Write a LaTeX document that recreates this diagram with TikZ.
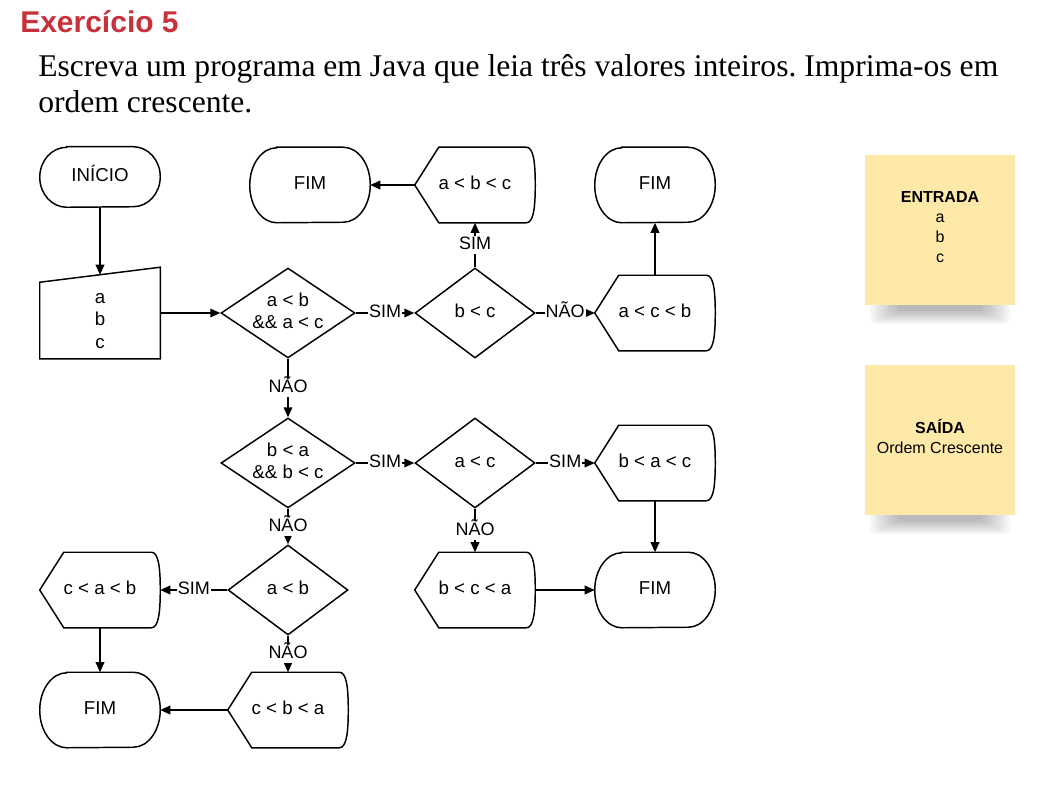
\documentclass[tikz,border=0pt]{standalone}
\usepackage{fontspec}
\setmainfont{Liberation Serif}
\setsansfont{Liberation Sans}
\usetikzlibrary{shapes.geometric,arrows.meta,calc}
\definecolor{titlered}{RGB}{200,48,60}
\definecolor{stickyyellow}{RGB}{255,233,168}
\tikzset{
  fc/.style={font=\sffamily\fontsize{14}{16.5}\selectfont, inner sep=0pt, align=center},
  one/.style={text height=10.3pt, text depth=2.9pt},
  term/.style={fc, one, minimum width=90pt, minimum height=#1},
  disp/.style={fc, one, minimum width=90pt, minimum height=56.25pt},
  dec/.style={fc, diamond, draw, line width=1.1pt, aspect=1.5, minimum width=#1, minimum height=67.5pt},
  inbox/.style={fc, minimum width=90pt, minimum height=68.25pt},
  outline/.style={draw, line width=1.1pt, line join=miter},
  arr/.style={line width=1.1pt, -{Triangle[length=7.5pt,width=6.5pt]}},
  lbl/.style={fill=white, inner sep=0.8pt, text height=9.8pt, text depth=2.8pt, font=\sffamily\fontsize{13.5}{15}\selectfont},
  sticky/.style={fill=stickyyellow, minimum width=112.5pt, minimum height=112.5pt, inner sep=0pt},
  stickytext/.style={align=center, inner sep=0pt, font=\sffamily\fontsize{12}{15}\selectfont},
  shadowstrip/.style={fill=black, opacity=0.03, rounded corners=4pt},
}
\newcommand\termshape[2]{%
  \draw[outline] ($(#1.north west)+(27,0)$) -- ($(#1.north east)+(-27,0)$)
    arc[start angle=90,end angle=-90,x radius=20.25pt,y radius=#2]
    -- ($(#1.south west)+(27,0)$)
    arc[start angle=270,end angle=90,x radius=20.25pt,y radius=#2] -- cycle;}
\newcommand\dispshape[1]{%
  \draw[outline] (#1.west) -- ($(#1.north west)+(24,0)$) -- ($(#1.north east)+(-9,0)$)
    .. controls ($(#1.north east)+(-2,0)$) and ($(#1.east)+(0,-24)$) .. (#1.east)
    .. controls ($(#1.east)+(0,24)$) and ($(#1.south east)+(-2,0)$) .. ($(#1.south east)+(-9,0)$)
    -- ($(#1.south west)+(24,0)$) -- cycle;}
\frenchspacing
\begin{document}
\begin{tikzpicture}[x=0.75pt,y=-0.75pt]
\useasboundingbox (0,0) rectangle (1041,788);
% header
\node[anchor=base west, inner sep=0pt, text=titlered, font=\sffamily\bfseries\fontsize{22.5}{27}\selectfont] (title) at (20,33) {Exercício 5};
\node[anchor=base west, inner sep=0pt, font=\rmfamily\fontsize{23.7}{27}\selectfont] (task1) at (38,77) {Escreva um programa em Java que leia três valores inteiros. Imprima-os em};
\node[anchor=base west, inner sep=0pt, font=\rmfamily\fontsize{23.7}{27}\selectfont] (task2) at (38,113) {ordem crescente.};
% terminals
\node[term=45pt] (start) at (100,177) {INÍCIO};
\termshape{start}{22.5pt}
\node[term=56.25pt] (fim1) at (310,185) {FIM};
\termshape{fim1}{28.125pt}
\node[term=56.25pt] (fim2) at (655,185) {FIM};
\termshape{fim2}{28.125pt}
\node[term=56.25pt] (fim3) at (655,590) {FIM};
\termshape{fim3}{28.125pt}
\node[term=56.25pt] (fim4) at (100,710) {FIM};
\termshape{fim4}{28.125pt}
% input
\node[inbox, label={[fc, yshift=-6pt, font=\sffamily\fontsize{14}{16.6}\selectfont]center:{a\\b\\c}}] (in) at (100,313) {};
\draw[outline] (in.south west) -- ($(in.north west)+(0,15)$) -- (in.north east) -- (in.south east) -- cycle;
% decisions
\node[dec=100.5pt, label={[fc, yshift=1.8pt]center:{a < b\\\&\& a < c}}] (d1) at (288,313) {};
\node[dec=90pt, one] (d2) at (475,313) {b < c};
\node[dec=100.5pt, label={[fc, yshift=1.8pt]center:{b < a\\\&\& b < c}}] (d3) at (288,463) {};
\node[dec=90pt, one] (d4) at (475,463) {a < c};
\node[dec=90pt, one] (d5) at (288,590) {a < b};
% displays
\node[disp] (A) at (475,185) {a < b < c};
\dispshape{A}
\node[disp] (B) at (655,313) {a < c < b};
\dispshape{B}
\node[disp] (C) at (655,463) {b < a < c};
\dispshape{C}
\node[disp] (D) at (475,590) {b < c < a};
\dispshape{D}
\node[disp] (E) at (100,590) {c < a < b};
\dispshape{E}
\node[disp] (F) at (288,710) {c < b < a};
\dispshape{F}
% connectors
\draw[arr] (start.south) -- ($(in.north)+(0,7.5)$);
\draw[arr] (in.east) -- (d1.west);
\draw[arr] (d1.east) -- node[lbl]{SIM} (d2.west);
\draw[arr] (d2.north) -- node[lbl]{SIM} (A.south);
\draw[arr] (A.west) -- (fim1.east);
\draw[arr] (d2.east) -- node[lbl]{NÃO} (B.west);
\draw[arr] (B.north) -- (fim2.south);
\draw[arr] (d1.south) -- node[lbl]{NÃO} (d3.north);
\draw[arr] (d3.east) -- node[lbl]{SIM} (d4.west);
\draw[arr] (d4.east) -- node[lbl]{SIM} (C.west);
\draw[arr] (C.south) -- (fim3.north);
\draw[arr] (d4.south) -- node[lbl]{NÃO} (D.north);
\draw[arr] (D.east) -- (fim3.west);
\draw[arr] (d3.south) -- node[lbl]{NÃO} (d5.north);
\draw[arr] (d5.west) -- node[lbl]{SIM} (E.east);
\draw[arr] (d5.south) -- node[lbl]{NÃO} (F.north);
\draw[arr] (E.south) -- (fim4.north);
\draw[arr] (F.west) -- (fim4.east);
% sticky notes
\coordinate (entradaC) at (940,230);
\coordinate (saidaC) at (940,440);
\foreach \c in {entradaC,saidaC}{
  \foreach \i in {0,...,9}{
    \fill[shadowstrip] ($(\c)+(-70+\i*3,60)$) rectangle ($(\c)+(70-\i*3,94-\i*1.5)$);
  }
}
\node[sticky, label={[stickytext, yshift=2pt]center:{\textbf{ENTRADA}\\a\\b\\c}}] (entrada) at (entradaC) {};
\node[sticky, label={[stickytext, yshift=2.5pt]center:{\textbf{SAÍDA}\\Ordem Crescente}}] (saida) at (saidaC) {};
\end{tikzpicture}
\end{document}
